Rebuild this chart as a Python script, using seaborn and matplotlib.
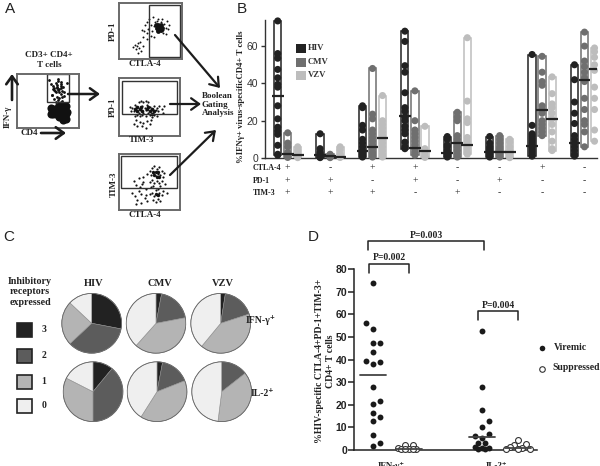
import matplotlib
matplotlib.use("Agg")
import matplotlib.pyplot as plt
import numpy as np
import pandas as pd
import seaborn as sns
from matplotlib.patches import Rectangle, FancyArrowPatch

# ---------- data ----------
viruses = ["HIV", "CMV", "VZV"]
virus_colors = ["#222222", "#6f6f6f", "#bdbdbd"]
marker_rows = ["CTLA-4", "PD-1", "TIM-3"]
ctla4 = ["+", "-", "+", "+", "-", "-", "+", "-"]
pd1 = ["+", "+", "-", "+", "-", "+", "-", "-"]
tim3 = ["+", "+", "+", "-", "+", "-", "-", "-"]

hiv_values = [
    [73.5, 56, 53.5, 47.5, 43, 39.5, 38, 28, 21, 16.5, 14.5, 12.7, 6.8, 2, 1.5],
    [13, 5, 3, 2, 1, .5, .2],
    [28, 27, 17.5, 15, 10, 8, 6, 4, 3, 2, 1, .5],
    [68, 62.5, 49.5, 46, 35, 27, 25, 22, 20, 17, 15, 13, 8.5, 6, 5],
    [11.5, 10, 7, 6, 4, 3, 2, 1, .5],
    [11.5, 8, 6, 5, 4, 3, 2, 1, .5],
    [55.5, 17.5, 13, 12, 11, 10, 9, 8, 7, 6, 5, 4, 3, 2, 1],
    [50, 42, 30, 24, 18.5, 12, 10, 8, 6, 4, 2, 1],
]
cmv_values = [
    [13.5, 8, 6, 3, 1.5, .8, .3],
    [2, 1.2, .8, .5, .2],
    [48, 23.5, 21, 15, 13, 11, 9, 7, 5, 3, 2, 1, .5],
    [36, 20, 15, 13, 11, 9, 7, 5, 3, 1.5],
    [24.5, 22, 20, 12, 10, 8, 6, 4, 2, .5],
    [12, 10, 8, 6, 5, 4, 3, 2, 1, .5],
    [54.5, 46, 41, 39, 28, 26, 24, 20, 18, 16, 14, 12],
    [67.5, 60, 52, 49, 46, 43, 41, 32, 26, 20, 18, 14, 6],
]
vzv_values = [
    [6, 4, 2, 1, .5, .2],
    [6, 4.5, 2, 1, .5, .3],
    [33.5, 20, 18, 16, 14, 12, 10, 8, 6, 4, 2, 1, .5],
    [17, 5, 3.5, 2, 1, .3],
    [64.5, 30.5, 21, 19, 11, 9, 7, 5, 3, 2],
    [10, 8.5, 6, 4, 3, 2, 1, .5, .2],
    [43.5, 34.5, 29, 27, 24, 21, 18, 14, 9, 5, 4],
    [59, 57, 54, 50, 47, 38, 32, 26, 15, 9],
]
hiv_medians = [33.5, 1.5, 4, 22.5, 2.5, 3, 6.5, 8]
cmv_medians = [2, 1, 6, 5.5, 8, 3, 26, 42]
vzv_medians = [1.5, .7, 10.5, 3.5, 7, 3, 21, 47.5]

receptor_levels = ["3", "2", "1", "0"]
pie_colors = ["#222222", "#5c5c5c", "#b4b4b4", "#efefef"]
pie_ifn_hiv = [28, 35, 24, 13]
pie_ifn_cmv = [3, 19, 39.6, 38.4]
pie_ifn_vzv = [2.5, 17.5, 41, 39]
pie_il2_hiv = [11, 39, 32.5, 17.5]
pie_il2_cmv = [3, 16, 40, 41]
pie_il2_vzv = [0, 14.4, 37.6, 48]

ifn_viremic = [74, 56, 53.5, 47.5, 47.5, 43.5, 39.5, 38, 39, 28, 21.5, 20.5, 16.5, 14.5, 12.7, 6.8, 3.3, 1.8]
ifn_viremic_dx = [0, -1, 0, 0, 1, 0, -1, 0, 1, 0, 1, 0, 0, 1, 0, 0, 1, 0]
ifn_supp = [2.2, 2.0, 1, .5, .5, .5, .3, .3]
ifn_supp_dx = [-.55, .5, -1.55, -1.1, 0, 1, -.55, .5]
il2_viremic = [52.5, 27.7, 17.7, 13, 10, 7.2, 6, 5.5, 3, 3, 1.3, 1, 1, .5, .5]
il2_viremic_dx = [0, 0, 0, 1, 0, 1, -1, 0, -.5, .5, -1, 0, 1, -.5, .5]
il2_supp = [4.5, 2.5, 2.2, 1.2, 1, .4, .3, .5]
il2_supp_dx = [0, 1.1, -.5, -1.15, .55, -1.6, 0, 1.6]
d_medians = [33, .5, 5.7, .7]

# flow-cytometry dots read by eye, in percent of each plot's width and height
gate_x = [66, 62, 70, 58, 74, 64, 68, 60, 72, 66, 62, 70, 56, 76, 64, 68, 60, 66, 72, 58, 64, 70, 62, 68, 55, 75, 65, 60, 70, 66,
          52, 80, 57, 73, 63, 69, 65, 61, 67, 71]
gate_y = [88, 84, 82, 78, 76, 74, 72, 70, 68, 92, 66, 64, 62, 60, 58, 56, 54, 52, 50, 72, 80, 86, 48, 46, 82, 66, 44, 74, 78, 70,
          90, 84, 62, 58, 42, 40, 76, 68, 66, 74]
blob_x = [54, 58, 62, 66, 70, 74, 78, 56, 60, 64, 68, 72, 76, 80, 54, 58, 62, 66, 70, 74, 78, 68, 72, 76, 70, 74, 78]
blob_y = [36, 35, 34, 36, 38, 40, 40, 30, 30, 30, 32, 32, 33, 30, 26, 26, 26, 26, 26, 26, 26, 20, 20, 20, 42, 15, 16]

p1_x = [56, 60, 63, 66, 58, 62, 65, 68, 60, 64, 67, 70, 57, 61, 66, 72, 74, 50, 46, 44, 52, 48, 54, 42, 76, 78, 70, 40, 45, 36,
        30, 28, 34, 25, 32, 38, 27, 35, 22, 30, 50, 55, 62, 68, 74, 38, 44, 80]
p1_y = [58, 62, 60, 58, 54, 54, 54, 56, 50, 50, 50, 52, 66, 68, 66, 62, 56, 60, 54, 66, 50, 72, 74, 60, 68, 54, 46, 50, 46, 52,
        28, 24, 30, 26, 20, 24, 18, 14, 22, 12, 42, 40, 72, 72, 44, 40, 36, 60]
p1_core_x = [58, 62, 66, 60, 64, 68, 62, 66]
p1_core_y = [60, 60, 60, 55, 55, 56, 50, 51]

p2_x = [22, 26, 30, 34, 38, 42, 46, 50, 54, 58, 62, 66, 24, 28, 32, 36, 40, 44, 48, 52, 56, 60, 64, 26, 30, 34, 38, 44, 50, 54,
        58, 62, 70, 18, 20, 72, 74, 32, 36, 40, 44, 48, 28, 34, 40, 46, 52, 30, 38, 24, 44, 50]
p2_y = [48, 54, 50, 46, 52, 48, 54, 50, 46, 52, 48, 52, 42, 44, 40, 44, 40, 44, 40, 44, 40, 44, 42, 34, 36, 34, 36, 34, 36, 32,
        36, 34, 46, 50, 42, 40, 52, 58, 60, 58, 60, 58, 28, 24, 22, 26, 28, 16, 16, 20, 14, 20]
p2_core_x = [26, 30, 34, 38, 46, 50, 54, 58, 30, 36, 48, 54]
p2_core_y = [46, 42, 46, 42, 46, 42, 46, 42, 50, 50, 50, 38]

p3_x = [50, 54, 58, 62, 66, 70, 74, 52, 56, 60, 64, 68, 72, 50, 54, 58, 62, 66, 70, 52, 56, 60, 64, 68, 72, 50, 54, 58, 62, 66,
        70, 56, 60, 64, 68, 24, 28, 32, 36, 40, 44, 26, 30, 34, 38, 42, 46, 28, 36, 44, 40, 32, 22, 46, 76, 78]
p3_y = [70, 74, 78, 72, 76, 70, 66, 62, 66, 60, 64, 62, 58, 50, 54, 48, 52, 48, 52, 40, 42, 36, 38, 42, 34, 28, 30, 24, 26, 30,
        26, 18, 14, 20, 16, 52, 44, 34, 28, 50, 38, 24, 18, 40, 46, 22, 16, 10, 12, 26, 58, 56, 30, 64, 46, 30]
p3_core_x = [56, 60, 64, 58, 62, 66, 60, 64]
p3_core_y = [68, 68, 68, 62, 58, 58, 28, 26]

# ---------- page ----------
sns.set_theme(style="white", rc={"axes.facecolor": "none"})
plt.rcParams["font.family"] = ["Liberation Serif", "DejaVu Sans"]
W, H = 600, 466
fig = plt.figure(figsize=(W / 100, H / 100), dpi=100, facecolor="white")


def box(l, t, r, b):
    return [l / W, 1 - b / H, (r - l) / W, (b - t) / H]


page = fig.add_axes([0, 0, 1, 1], zorder=5)
page.set_xlim(0, W)
page.set_ylim(H, 0)
page.axis("off")


def label(x, y, s, size=6.5, rot=0, ha="center", weight="bold", color="#222222", family=None, linespacing=1.2):
    page.text(x, y, s, fontsize=size, rotation=rot, ha=ha, va="center", fontweight=weight, color=color,
              family=family or ["Liberation Serif", "DejaVu Sans"], linespacing=linespacing)


for letter, lx, ly in [("A", 10, 9), ("B", 242, 9), ("C", 9, 237), ("D", 313, 237)]:
    label(lx, ly, letter, size=11, weight="normal", family="Liberation Sans")

# ---------- A ----------
gray = "#6a6a6a"


def flow(rect, gate, sets):
    ax = fig.add_axes(box(*rect))
    ax.set_xlim(0, 100)
    ax.set_ylim(0, 100)
    ax.set_xticks([])
    ax.set_yticks([])
    for s in ax.spines.values():
        s.set_color(gray)
        s.set_linewidth(1.4)
    for xs, ys, size in sets:
        sns.scatterplot(x=xs, y=ys, s=size, color="#111111", linewidth=0, ax=ax, legend=False)
    l, t, r, b = rect
    gl, gt, gr, gb = gate
    ax.add_patch(Rectangle(((gl - l) / (r - l) * 100, (b - gb) / (b - t) * 100),
                           (gr - gl) / (r - l) * 100, (gb - gt) / (b - t) * 100,
                           fill=False, ec="#333333", lw=1))
    return ax


flow((16.7, 74.3, 79.3, 127.7), (47.3, 74.3, 69.3, 102), [(gate_x, gate_y, 4), (blob_x, blob_y, 34)])
flow((119, 2.7, 182, 59.3), (148.7, 5.3, 180, 56.7), [(p1_x, p1_y, 2), (p1_core_x, p1_core_y, 12)])
flow((119, 78, 180, 135.7), (122, 81, 176.7, 114), [(p2_x, p2_y, 2.5), (p2_core_x, p2_core_y, 7)])
flow((119, 153.7, 180, 210), (120.7, 156, 176.7, 187.7), [(p3_x, p3_y, 2.5), (p3_core_x, p3_core_y, 6)])

label(49, 60, "CD3+ CD4+\nT cells", size=6.5)
label(8, 117, "IFN-γ", rot=90)
label(29, 133, "CD4")
label(113, 31, "PD-1", rot=90)
label(145, 64, "CTLA-4")
label(113, 107, "PD-1", rot=90)
label(142, 140, "TIM-3")
label(114, 184, "TIM-3", rot=90)
label(145, 215, "CTLA-4")
label(202, 96, "Boolean", ha="left")
label(202, 105, "Gating", ha="left")
label(202, 113, "Analysis", ha="left")

for (x0, y0), (x1, y1), w in [
    ((12, 100), (12, 74), 1.9),
    ((41, 133), (66, 133), 1.9),
    ((68, 94), (100, 94), 1.8),
    ((175, 35), (220, 88), 1.6),
    ((170, 104), (201, 104), 1.6),
    ((170, 175), (216, 130), 1.6),
]:
    page.add_patch(FancyArrowPatch((x0, y0), (x1, y1), arrowstyle="->,head_length=3.6,head_width=2.6",
                                   mutation_scale=1.6, lw=w, color="#1c1c1c", shrinkA=0, shrinkB=0))

# ---------- B ----------
axb = fig.add_axes(box(265, 20, 597, 158))
x0b, stepb = 287.7, 42.4
axb.set_xlim((265 - x0b) / stepb, (597 - x0b) / stepb)
axb.set_ylim(0, 74)
offsets = [-0.236, 0, 0.236]
series = [hiv_values, cmv_values, vzv_values]
medians = [hiv_medians, cmv_medians, vzv_medians]
rows = []
for vi, (v, vals) in enumerate(zip(viruses, series)):
    for g, group in enumerate(vals):
        off = g + offsets[vi]
        axb.bar(off, max(group) - min(group), bottom=min(group), width=0.17, facecolor="white",
                edgecolor=virus_colors[vi], linewidth=1.1, zorder=2)
        rows += [{"x": off, "y": val, "virus": v} for val in group]
        axb.plot([off - 0.14, off + 0.14], [medians[vi][g]] * 2, color="#222222", lw=1.6, zorder=4, solid_capstyle="butt")
df_b = pd.DataFrame(rows)
sns.scatterplot(data=df_b, x="x", y="y", hue="virus", palette=dict(zip(viruses, virus_colors)), s=26, linewidth=0,
                ax=axb, legend=False, zorder=3, clip_on=False)
sns.despine(ax=axb, bottom=False, left=False)
for s in ("left", "bottom"):
    axb.spines[s].set_color("#333333")
    axb.spines[s].set_linewidth(1)
axb.set_xlabel("")
axb.set_ylabel("")
axb.set_xticks([])
axb.set_yticks([0, 20, 40, 60])
axb.tick_params(axis="y", left=True, length=3, width=1, color="#333333", labelsize=7.5, labelcolor="#333333", pad=2)
for t in axb.get_yticklabels():
    t.set_family("Liberation Sans")
axb.set_zorder(6)

for (txt, sx), sy in zip(zip(marker_rows, [ctla4, pd1, tim3]), [168, 181, 193]):
    label(253, sy, txt, size=5.8, ha="left")
    for g, sign in enumerate(sx):
        label(x0b + stepb * g, sy, sign, size=7, weight="normal", color="#333333")

label(241, 97, "%IFNγ+ virus-specificCD4+ T cells", size=6.3, rot=90)
for v, c, y in zip(viruses, virus_colors, [48, 62, 75]):
    page.add_patch(Rectangle((296, y - 4.5), 10, 9, fc=c, ec="none"))
    label(308, y, v, size=6.3, ha="left", color="#333333")

# ---------- C ----------
label(30, 292, "Inhibitory\nreceptors\nexpressed", size=7.2, linespacing=1.25)
for lev, col, y in zip(receptor_levels, pie_colors, [330, 356, 382, 406]):
    page.add_patch(Rectangle((17, y - 7), 15, 14, fc=col, ec="#222222", lw=1.2))
    label(44, y, lev, size=7)

pie_rows = [[pie_ifn_hiv, pie_ifn_cmv, pie_ifn_vzv], [pie_il2_hiv, pie_il2_cmv, pie_il2_vzv]]
pie_centers = [[(91.7, 323.3), (156, 323.3), (220.7, 323.3)], [(93, 391.7), (157, 391.7), (221.7, 391.7)]]
R = 30.5
for row, cen in zip(pie_rows, pie_centers):
    for vals, (cx, cy) in zip(row, cen):
        ax = fig.add_axes(box(cx - R, cy - R, cx + R, cy + R))
        ax.pie(vals, colors=pie_colors, startangle=90, counterclock=False, radius=1,
               wedgeprops={"edgecolor": "#8a8a8a", "linewidth": 0.4})
        ax.add_patch(plt.Circle((0, 0), 1, fill=False, ec="#666666", lw=0.6))
        ax.set_xlim(-1.02, 1.02)
        ax.set_ylim(-1.02, 1.02)

for name, cx in zip(viruses, [94, 160, 223]):
    label(cx, 283, name, size=7.5)
label(261, 320, "IFN-γ⁺", size=7)
label(262, 393, "IL-2⁺", size=7)

# ---------- D ----------
axd = fig.add_axes(box(354, 269, 537, 450))
x_center = [372.7, 409, 481.7, 518]
axd.set_xlim(354, 537)
axd.set_ylim(0, 80)
jit = 7.2
groups_d = [(ifn_viremic, ifn_viremic_dx, "Viremic"), (ifn_supp, ifn_supp_dx, "Suppressed"),
            (il2_viremic, il2_viremic_dx, "Viremic"), (il2_supp, il2_supp_dx, "Suppressed")]
rows = []
for (vals, dx, status), cx in zip(groups_d, x_center):
    rows += [{"x": cx + d * jit, "y": v, "status": status} for v, d in zip(vals, dx)]
df_d = pd.DataFrame(rows)
sns.scatterplot(data=df_d[df_d.status == "Viremic"], x="x", y="y", color="#1a1a1a", s=18, linewidth=0,
                ax=axd, legend=False, clip_on=False, zorder=3)
sns.scatterplot(data=df_d[df_d.status == "Suppressed"], x="x", y="y", facecolor="white", edgecolor="#333333", s=18,
                linewidth=0.8, ax=axd, legend=False, clip_on=False, zorder=3)
for cx, m in zip(x_center, d_medians):
    axd.plot([cx - 13, cx + 13], [m, m], color="#444444", lw=1.3, zorder=4)
sns.despine(ax=axd)
for s in ("left", "bottom"):
    axd.spines[s].set_color("#222222")
    axd.spines[s].set_linewidth(1.1)
axd.set_xlabel("")
axd.set_ylabel("")
axd.set_yticks(range(0, 81, 10))
axd.set_xticks([391.7, 497], ["IFN-γ⁺", "IL-2⁺"])
axd.tick_params(axis="y", left=True, length=4, width=1.1, color="#222222", labelsize=7.5, pad=1, labelcolor="#222222")
axd.tick_params(axis="x", bottom=False, labelsize=6.5, pad=3, labelcolor="#222222")
for t in axd.get_yticklabels():
    t.set_family("Liberation Sans")
    t.set_fontweight("bold")
for t in axd.get_xticklabels():
    t.set_fontweight("bold")
axd.set_zorder(6)

label(325, 361, "%HIV-specific CTLA-4+PD-1+TIM-3+\nCD4+ T cells", size=7, rot=90)
for x0, x1, ytop, ybot, txt, ty in [
    (368, 484, 241, 250, "P=0.003", 235),
    (369, 409, 264, 273, "P=0.002", 258),
    (478, 518, 311, 320, "P=0.004", 306),
]:
    page.plot([x0, x0, x1, x1], [ybot, ytop, ytop, ybot], color="#222222", lw=1.1)
    label((x0 + x1) / 2 - (0 if x1 - x0 < 100 else 0), ty, txt, size=7)

page.scatter([542], [348], s=16, color="#1a1a1a", linewidth=0)
page.scatter([542], [369], s=16, facecolor="white", edgecolor="#333333", linewidth=0.8)
label(554, 348, "Viremic", size=7, ha="left")
label(552, 368, "Suppressed", size=7, ha="left")

fig.savefig("out.png", dpi=100, facecolor="white")
